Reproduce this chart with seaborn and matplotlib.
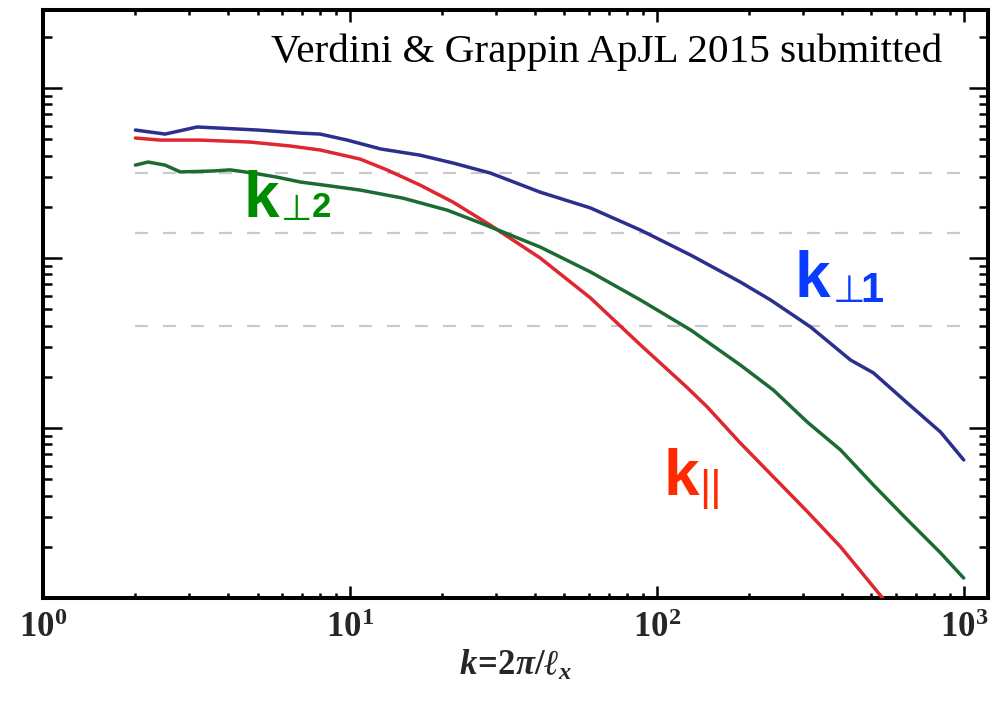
import numpy as np
import pandas as pd
import matplotlib
matplotlib.use("Agg")
import matplotlib.pyplot as plt
import matplotlib.ticker as mticker
import seaborn as sns

# Wavenumber samples and spectra along each direction
k_perp1 = [2.00, 2.50, 3.18, 5.02, 6.89, 8.00, 9.80, 12.6, 16.9, 21.7, 28.7, 41.7,
           60.8, 88.5, 129, 187, 235, 317, 428, 508, 656, 841, 1000]
E_perp1 = [0.566, 0.536, 0.590, 0.566, 0.543, 0.536, 0.494, 0.438, 0.403, 0.362,
           0.316, 0.244, 0.197, 0.146, 0.104, 0.0723, 0.0566, 0.0393, 0.0251,
           0.0211, 0.0140, 0.00946, 0.00649]

k_par = [2.00, 2.41, 3.25, 4.73, 6.39, 8.00, 10.8, 13.2, 16.9, 21.7, 28.7, 41.7,
         60.8, 88.5, 126, 146, 187, 240, 310, 397, 544, 1000]
E_par = [0.508, 0.494, 0.494, 0.481, 0.456, 0.432, 0.382, 0.330, 0.269, 0.213,
         0.156, 0.100, 0.0582, 0.0308, 0.0172, 0.0133, 0.00817, 0.00515, 0.00321,
         0.00200, 0.00100, 0.000292]

k_perp2 = [2.00, 2.20, 2.50, 2.80, 3.58, 4.07, 4.84, 5.79, 6.89, 9.10, 10.8, 14.9,
           20.8, 26.6, 41.7, 60.8, 88.5, 129, 187, 240, 310, 397, 508, 656, 841, 1000]
E_perp2 = [0.352, 0.367, 0.352, 0.321, 0.325, 0.330, 0.316, 0.299, 0.280, 0.262,
           0.251, 0.225, 0.191, 0.161, 0.116, 0.0828, 0.0566, 0.0377, 0.0235,
           0.0167, 0.0108, 0.00743, 0.00462, 0.00288, 0.00184, 0.00131]

ref_levels = [0.316, 0.141, 0.0398]
ref_span = [2, 1000]

x_decades = [1, 10, 100, 1000]

line_colors = {"perp1": "#2c2f8e", "par": "#de2730", "perp2": "#1c6a34"}
label_colors = {"perp1": "#0a3cff", "par": "#ff2a00", "perp2": "#008c00"}

sns.set_theme(style="white")
plt.rcParams.update({
    "font.family": ["Liberation Serif", "DejaVu Serif"],
    "mathtext.fontset": "custom",
    "mathtext.rm": "Liberation Serif:bold",
    "mathtext.it": "Liberation Serif:bold:italic",
    "mathtext.bf": "Liberation Serif:bold",
})

df = pd.concat([
    pd.DataFrame({"k": k_perp1, "E": E_perp1, "component": "perp1"}),
    pd.DataFrame({"k": k_par, "E": E_par, "component": "par"}),
    pd.DataFrame({"k": k_perp2, "E": E_perp2, "component": "perp2"}),
], ignore_index=True)

fig = plt.figure(figsize=(10.05, 7.02), dpi=100)
ax = fig.add_axes([43 / 1005, 1 - 598 / 702, 945 / 1005, 588 / 702])
ax.set_xscale("log")
ax.set_yscale("log")

# reference levels
ax.hlines(ref_levels, ref_span[0], ref_span[1], colors="#c9c9c9",
          linewidth=1.6, linestyles=(0, (5.8, 6.8)), zorder=1)

sns.lineplot(data=df, x="k", y="E", hue="component", palette=line_colors,
             linewidth=2.5, legend=False, ax=ax, sort=False, estimator=None,
             zorder=3)
for ln in ax.get_lines():
    ln.set_solid_joinstyle("round")
    ln.set_solid_capstyle("round")

ax.set_xlim(1, 1200)
ax.set_ylim(1e-3, 10 ** 0.459)

# frame and ticks drawn on all four sides
for sp in ax.spines.values():
    sp.set_linewidth(2.9)
    sp.set_color("black")
ax.xaxis.set_major_locator(mticker.FixedLocator(x_decades))
ax.xaxis.set_minor_locator(mticker.LogLocator(base=10, subs=np.arange(2, 10), numticks=20))
ax.yaxis.set_major_locator(mticker.LogLocator(base=10, numticks=20))
ax.yaxis.set_minor_locator(mticker.LogLocator(base=10, subs=np.arange(2, 10), numticks=20))
ax.xaxis.set_major_formatter(mticker.FuncFormatter(
    lambda v, p: r"$10^{%d}$" % int(round(np.log10(v)))))
ax.xaxis.set_minor_formatter(mticker.NullFormatter())
ax.yaxis.set_major_formatter(mticker.NullFormatter())
ax.yaxis.set_minor_formatter(mticker.NullFormatter())

ax.tick_params(axis="both", which="both", direction="in", top=True, right=True,
               bottom=True, left=True, color="black")
ax.tick_params(axis="x", which="major", length=8.6, width=1.8, labelsize=25, pad=10)
ax.tick_params(axis="x", which="minor", length=3.6, width=1.8)
ax.tick_params(axis="y", which="major", length=13.7, width=1.8, labelleft=False)
ax.tick_params(axis="y", which="minor", length=6.5, width=1.8)

ax.set_xlabel(r"$k\!=\!2\pi/\ell_{x}$", fontsize=25, labelpad=3)
ax.set_ylabel("")

ax.text(942 / 1005, 1 - 62 / 702, "Verdini & Grappin ApJL 2015 submitted",
        transform=fig.transFigure, ha="right", va="baseline",
        fontsize=29.6, family="Liberation Serif", color="black")


def pixel_to_axes(px, py):
    return ((px - 43) / 945, (598 - py) / 588)


def component_label(px, py, parts, color):
    """parts: (text, size, weight, family, dx_pt, dy_pt)"""
    xy = pixel_to_axes(px, py)
    for txt, size, weight, fam, dx, dy in parts:
        ax.annotate(txt, xy=xy, xycoords="axes fraction", xytext=(dx, dy),
                    textcoords="offset points", ha="left", va="baseline",
                    fontsize=size, fontweight=weight, family=fam, color=color,
                    zorder=5)


component_label(243, 217, [
    ("k", 46, "bold", "Liberation Sans", 0, 0),
    ("\u22a5", 26, "normal", "DejaVu Sans", 27, -2),
    ("2", 25, "bold", "Liberation Sans", 49.5, 0),
], label_colors["perp2"])

component_label(794, 297, [
    ("k", 46, "bold", "Liberation Sans", 0, 0),
    ("\u22a5", 27, "normal", "DejaVu Sans", 28, -3.6),
    ("1", 30, "bold", "Liberation Sans", 47.5, -3.6),
], label_colors["perp1"])

component_label(663, 495, [
    ("k", 46, "bold", "Liberation Sans", 0, 0),
    ("||", 31, "normal", "Liberation Sans", 26, -3.6),
], label_colors["par"])

fig.savefig("out.png", dpi=100)
